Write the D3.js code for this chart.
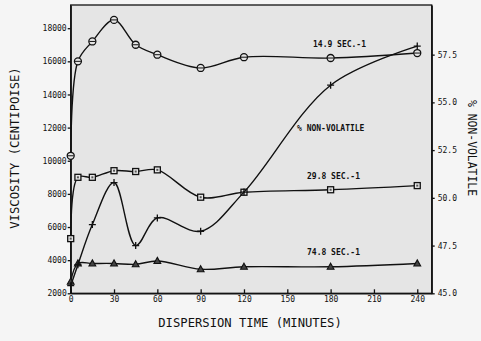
<!DOCTYPE html>
<html>
<head>
<meta charset="utf-8">
<script src="https://cdn.jsdelivr.net/npm/d3@7"></script>
<style>
  body { margin: 0; background: #f5f5f5; }
  svg { display: block; }
  .axis path, .axis line { stroke: #111; stroke-width: 1.3px; }
  .axis text { font-family: "DejaVu Sans Mono", monospace; font-size: 8px; fill: #111; }
  .title { font-family: "DejaVu Sans Mono", monospace; fill: #111; }
  .tag { font-family: "DejaVu Sans Mono", monospace; font-size: 8px; font-weight: bold; fill: #111; }
</style>
</head>
<body>
<script>
// data (minutes)
var times = [0, 5, 15, 30, 45, 60, 90, 120, 180, 240];
var visc149 = [10300, 16000, 17200, 18500, 17000, 16400, 15600, 16250, 16200, 16500];
var visc298 = [5300, 9000, 9000, 9400, 9350, 9450, 7800, 8100, 8250, 8500];
var visc748 = [2700, 3800, 3800, 3800, 3750, 3950, 3450, 3600, 3600, 3800];
var nonVol = [45.4, 46.5, 48.6, 50.8, 47.5, 48.95, 48.25, 50.3, 55.9, 57.95];

var xTicks = [0, 30, 60, 90, 120, 150, 180, 210, 240];
var yTicks = [2000, 4000, 6000, 8000, 10000, 12000, 14000, 16000, 18000];
var y2Ticks = [45, 47.5, 50, 52.5, 55, 57.5];

var width = 481, height = 341;
var plot = {left: 70.7, right: 431.7, top: 5, bottom: 293.3};

var svg = d3.select("body").append("svg")
    .attr("width", width)
    .attr("height", height);

var xScale = d3.scaleLinear().domain([0, 250]).range([plot.left, plot.right]);
var yScale = d3.scaleLinear().domain([2000, 19400]).range([plot.bottom, plot.top]);
var y2Scale = d3.scaleLinear().domain([45, 60.1]).range([plot.bottom, plot.top]);

// plot background
svg.append("rect")
    .attr("x", plot.left).attr("y", plot.top)
    .attr("width", plot.right - plot.left)
    .attr("height", plot.bottom - plot.top)
    .style("fill", "#e5e5e5");

// axes
svg.append("g").attr("class", "axis")
    .attr("transform", "translate(0," + plot.bottom + ")")
    .call(d3.axisBottom(xScale).tickValues(xTicks).tickSizeInner(-4).tickSizeOuter(0).tickPadding(3)
        .tickFormat(d3.format("d")));

svg.append("g").attr("class", "axis")
    .attr("transform", "translate(" + plot.left + ",0)")
    .call(d3.axisLeft(yScale).tickValues(yTicks).tickSizeInner(3).tickSizeOuter(0).tickPadding(1)
        .tickFormat(d3.format("d")));

svg.append("g").attr("class", "axis")
    .attr("transform", "translate(" + plot.right + ",0)")
    .call(d3.axisRight(y2Scale).tickValues(y2Ticks).tickSizeInner(3).tickSizeOuter(0).tickPadding(3)
        .tickFormat(d3.format(".1f")));

// frame
svg.append("rect")
    .attr("x", plot.left).attr("y", plot.top)
    .attr("width", plot.right - plot.left)
    .attr("height", plot.bottom - plot.top)
    .style("fill", "none").style("stroke", "#111").style("stroke-width", 1.3);

function series(vals, ys) {
    return times.map(function(t, i) { return {t: t, v: vals[i], y: ys}; });
}

var line = d3.line()
    .x(function(d) { return xScale(d.t); })
    .y(function(d) { return d.y(d.v); })
    .curve(d3.curveCatmullRom.alpha(0.5));

var sets = [
    {data: series(visc149, yScale), mark: "circle"},
    {data: series(visc298, yScale), mark: "square"},
    {data: series(visc748, yScale), mark: "triangle"},
    {data: series(nonVol, y2Scale), mark: "plus"}
];

var g = svg.append("g");
g.append("clipPath").attr("id", "clip")
    .append("rect")
    .attr("x", plot.left).attr("y", plot.top)
    .attr("width", plot.right - plot.left)
    .attr("height", plot.bottom - plot.top);

sets.forEach(function(s) {
    g.append("path")
        .datum(s.data)
        .attr("clip-path", "url(#clip)")
        .attr("d", line)
        .style("fill", "none")
        .style("stroke", "#111")
        .style("stroke-width", 1.4);

    var pts = g.selectAll(".m-" + s.mark)
        .data(s.data)
        .enter().append("g")
        .attr("class", "m-" + s.mark)
        .attr("transform", function(d) { return "translate(" + xScale(d.t) + "," + d.y(d.v) + ")"; });

    if (s.mark == "circle") {
        pts.append("circle").attr("r", 3.5)
            .style("fill", "#e5e5e5").style("stroke", "#111").style("stroke-width", 1.3);
        pts.append("line").attr("x1", -3).attr("x2", 3)
            .style("stroke", "#111").style("stroke-width", 1);
    } else if (s.mark == "square") {
        pts.append("rect").attr("x", -3).attr("y", -3).attr("width", 6).attr("height", 6)
            .style("fill", "#e5e5e5").style("stroke", "#111").style("stroke-width", 1.3);
        pts.append("rect").attr("x", -1).attr("y", -1).attr("width", 2).attr("height", 2)
            .style("fill", "#555");
    } else if (s.mark == "triangle") {
        pts.append("path").attr("d", "M0,-3.6L3.4,2.5L-3.4,2.5Z")
            .style("fill", "#444").style("stroke", "#111").style("stroke-width", 1.1);
    } else {
        pts.append("path").attr("d", "M-3.5,0H3.5M0,-3.5V3.5")
            .style("stroke", "#111").style("stroke-width", 1.3);
    }
});

// series tags
svg.append("text").attr("class", "tag").attr("x", 313).attr("y", 47).text("14.9 SEC.-1");
svg.append("text").attr("class", "tag").attr("x", 297).attr("y", 130.5).text("% NON-VOLATILE");
svg.append("text").attr("class", "tag").attr("x", 307).attr("y", 179).text("29.8 SEC.-1");
svg.append("text").attr("class", "tag").attr("x", 307).attr("y", 254.5).text("74.8 SEC.-1");

// axis titles
svg.append("text").attr("class", "title")
    .attr("x", 250).attr("y", 326.5)
    .style("text-anchor", "middle")
    .style("font-size", "12.2px")
    .text("DISPERSION TIME (MINUTES)");

svg.append("text").attr("class", "title")
    .attr("transform", "translate(19,148) rotate(-90)")
    .style("text-anchor", "middle")
    .style("font-size", "12.2px")
    .text("VISCOSITY (CENTIPOISE)");

svg.append("text").attr("class", "title")
    .attr("transform", "translate(468,148) rotate(90)")
    .style("text-anchor", "middle")
    .style("font-size", "11.4px")
    .text("% NON-VOLATILE");
</script>
</body>
</html>
